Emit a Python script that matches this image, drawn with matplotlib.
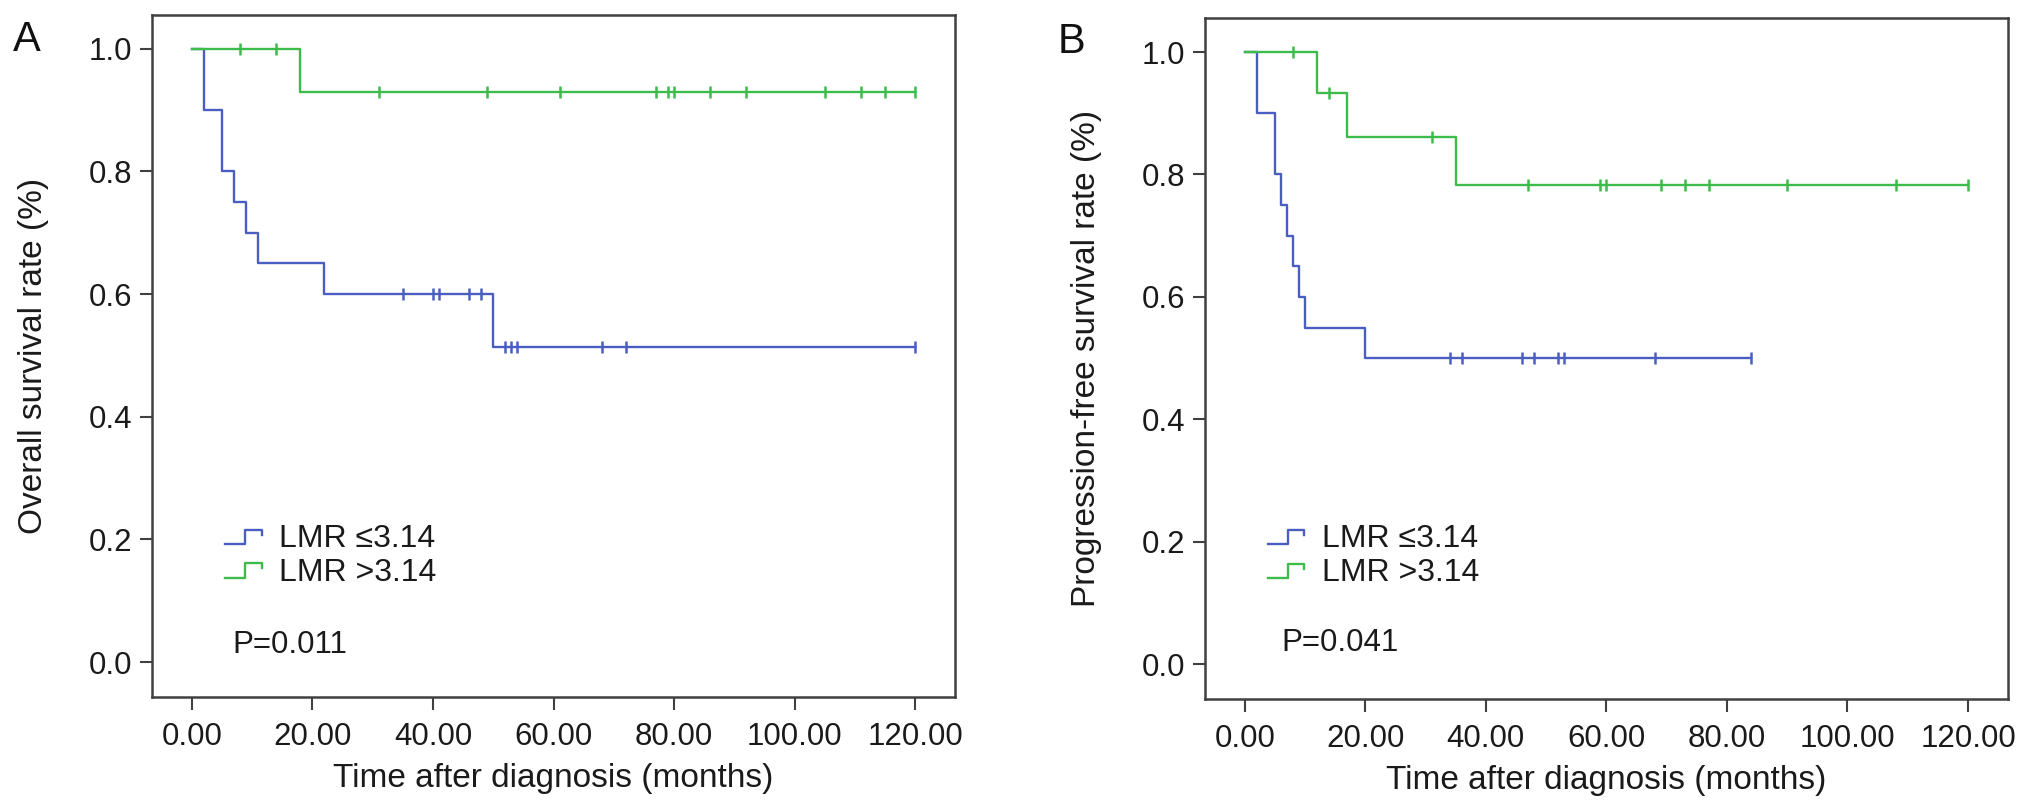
import numpy as np
import matplotlib
matplotlib.use("Agg")
import matplotlib.pyplot as plt
from matplotlib.legend_handler import HandlerBase
from matplotlib.lines import Line2D

plt.rcParams['font.family'] = ['Liberation Sans', 'DejaVu Sans']

# ---------------- data ----------------
xticks = [0, 20, 40, 60, 80, 100, 120]
xtick_labels = ["0.00", "20.00", "40.00", "60.00", "80.00", "100.00", "120.00"]
yticks = [0.0, 0.2, 0.4, 0.6, 0.8, 1.0]
ytick_labels = ["0.0", "0.2", "0.4", "0.6", "0.8", "1.0"]

series_labels = ["LMR \u22643.14", "LMR >3.14"]

# Panel A: overall survival
A_low_t = [0, 2, 5, 7, 9, 11, 22, 50, 120]
A_low_s = [1.0, 0.90, 0.80, 0.75, 0.70, 0.65, 0.60, 0.514, 0.514]
A_low_cens = [35, 40, 41, 46, 48, 52, 53, 54, 68, 72, 120]

A_high_t = [0, 18, 120]
A_high_s = [1.0, 0.929, 0.929]
A_high_cens = [8, 14, 31, 49, 61, 77, 79, 80, 86, 92, 105, 111, 115, 120]

# Panel B: progression-free survival
B_low_t = [0, 2, 5, 6, 7, 8, 9, 10, 20, 84]
B_low_s = [1.0, 0.90, 0.80, 0.75, 0.70, 0.65, 0.60, 0.55, 0.50, 0.50]
B_low_cens = [34, 36, 46, 48, 52, 53, 68, 84]

B_high_t = [0, 12, 17, 35, 120]
B_high_s = [1.0, 0.933, 0.862, 0.783, 0.783]
B_high_cens = [8, 14, 31, 47, 59, 60, 69, 73, 77, 90, 108, 120]

p_values = ["P=0.011", "P=0.041"]
ylabels = ["Overall survival rate (%)", "Progression-free survival rate (%)"]
xlabel = "Time after diagnosis (months)"
panel_letters = ["A", "B"]

# ---------------- style ----------------
BLUE = "#4a5ec2"
GREEN = "#3dbb4b"
SPINE = "#404040"
LW = 1.7


class StepHandler(HandlerBase):
    def create_artists(self, legend, orig_handle, xdescent, ydescent,
                       width, height, fontsize, trans):
        x0, y0 = -xdescent, -ydescent
        xs = [x0, x0 + 0.55 * width, x0 + 0.55 * width, x0 + width, x0 + width]
        ys = [y0 + 0.10 * height, y0 + 0.10 * height, y0 + 0.80 * height,
              y0 + 0.80 * height, y0 + 0.55 * height]
        ln = Line2D(xs, ys, color=orig_handle.get_color(),
                    lw=orig_handle.get_linewidth(), transform=trans)
        return [ln]


def surv_at(t_steps, s_steps, times):
    t_steps = np.asarray(t_steps)
    idx = np.searchsorted(t_steps, np.asarray(times), side='right') - 1
    return np.asarray(s_steps)[idx]


def draw_panel(ax, curves, ylabel, ptxt, legend_anchor, p_pos):
    handles = []
    for (t, s, cens, col) in curves:
        ln, = ax.step(t, s, where='post', color=col, lw=LW, zorder=3)
        ax.plot(cens, surv_at(t, s, cens), linestyle='none', marker='|',
                markersize=9, markeredgewidth=1.8, color=col, zorder=4)
        handles.append(ln)
    ax.set_xlim(-6.6, 126.6)
    ax.set_ylim(-0.057, 1.055)
    ax.set_xticks(xticks)
    ax.set_xticklabels(xtick_labels)
    ax.set_yticks(yticks)
    ax.set_yticklabels(ytick_labels)
    ax.tick_params(axis='both', direction='out', length=9, width=1.5,
                   color=SPINE, labelsize=22.5, labelcolor='#1a1a1a')
    ax.tick_params(axis='x', pad=9)
    ax.tick_params(axis='y', pad=5)
    for sp in ax.spines.values():
        sp.set_color(SPINE)
        sp.set_linewidth(1.8)
    ax.set_xlabel(xlabel, fontsize=24, color='#1a1a1a', labelpad=8)
    ax.set_ylabel(ylabel, fontsize=24, color='#1a1a1a')
    ax.yaxis.set_label_coords(-0.128, 0.5)
    ax.legend(handles, series_labels, handler_map={Line2D: StepHandler()},
              loc='center left', bbox_to_anchor=legend_anchor, frameon=False,
              fontsize=23, handlelength=1.15, handleheight=0.6,
              handletextpad=0.55, labelspacing=0.12, borderpad=0,
              borderaxespad=0)
    for txt in ax.get_legend().get_texts():
        txt.set_color('#1a1a1a')
    ax.text(p_pos[0], p_pos[1], ptxt, transform=ax.transAxes, fontsize=22.5,
            va='center', ha='left', color='#1a1a1a')


fig = plt.figure(figsize=(20.32, 8.11), dpi=100)
axA = fig.add_axes([0.0748, 0.1406, 0.3952, 0.8409])
axB = fig.add_axes([0.5930, 0.1377, 0.3951, 0.8397])

draw_panel(axA,
           [(A_low_t, A_low_s, A_low_cens, BLUE),
            (A_high_t, A_high_s, A_high_cens, GREEN)],
           ylabels[0], p_values[0], (0.091, 0.207), (0.100, 0.076))
draw_panel(axB,
           [(B_low_t, B_low_s, B_low_cens, BLUE),
            (B_high_t, B_high_s, B_high_cens, GREEN)],
           ylabels[1], p_values[1], (0.078, 0.210), (0.0955, 0.082))

fig.text(0.0064, 0.975, panel_letters[0], fontsize=30, va='top', ha='left', color='#111111')
fig.text(0.5207, 0.973, panel_letters[1], fontsize=30, va='top', ha='left', color='#111111')

fig.savefig("out.png", dpi=100, facecolor='white')
